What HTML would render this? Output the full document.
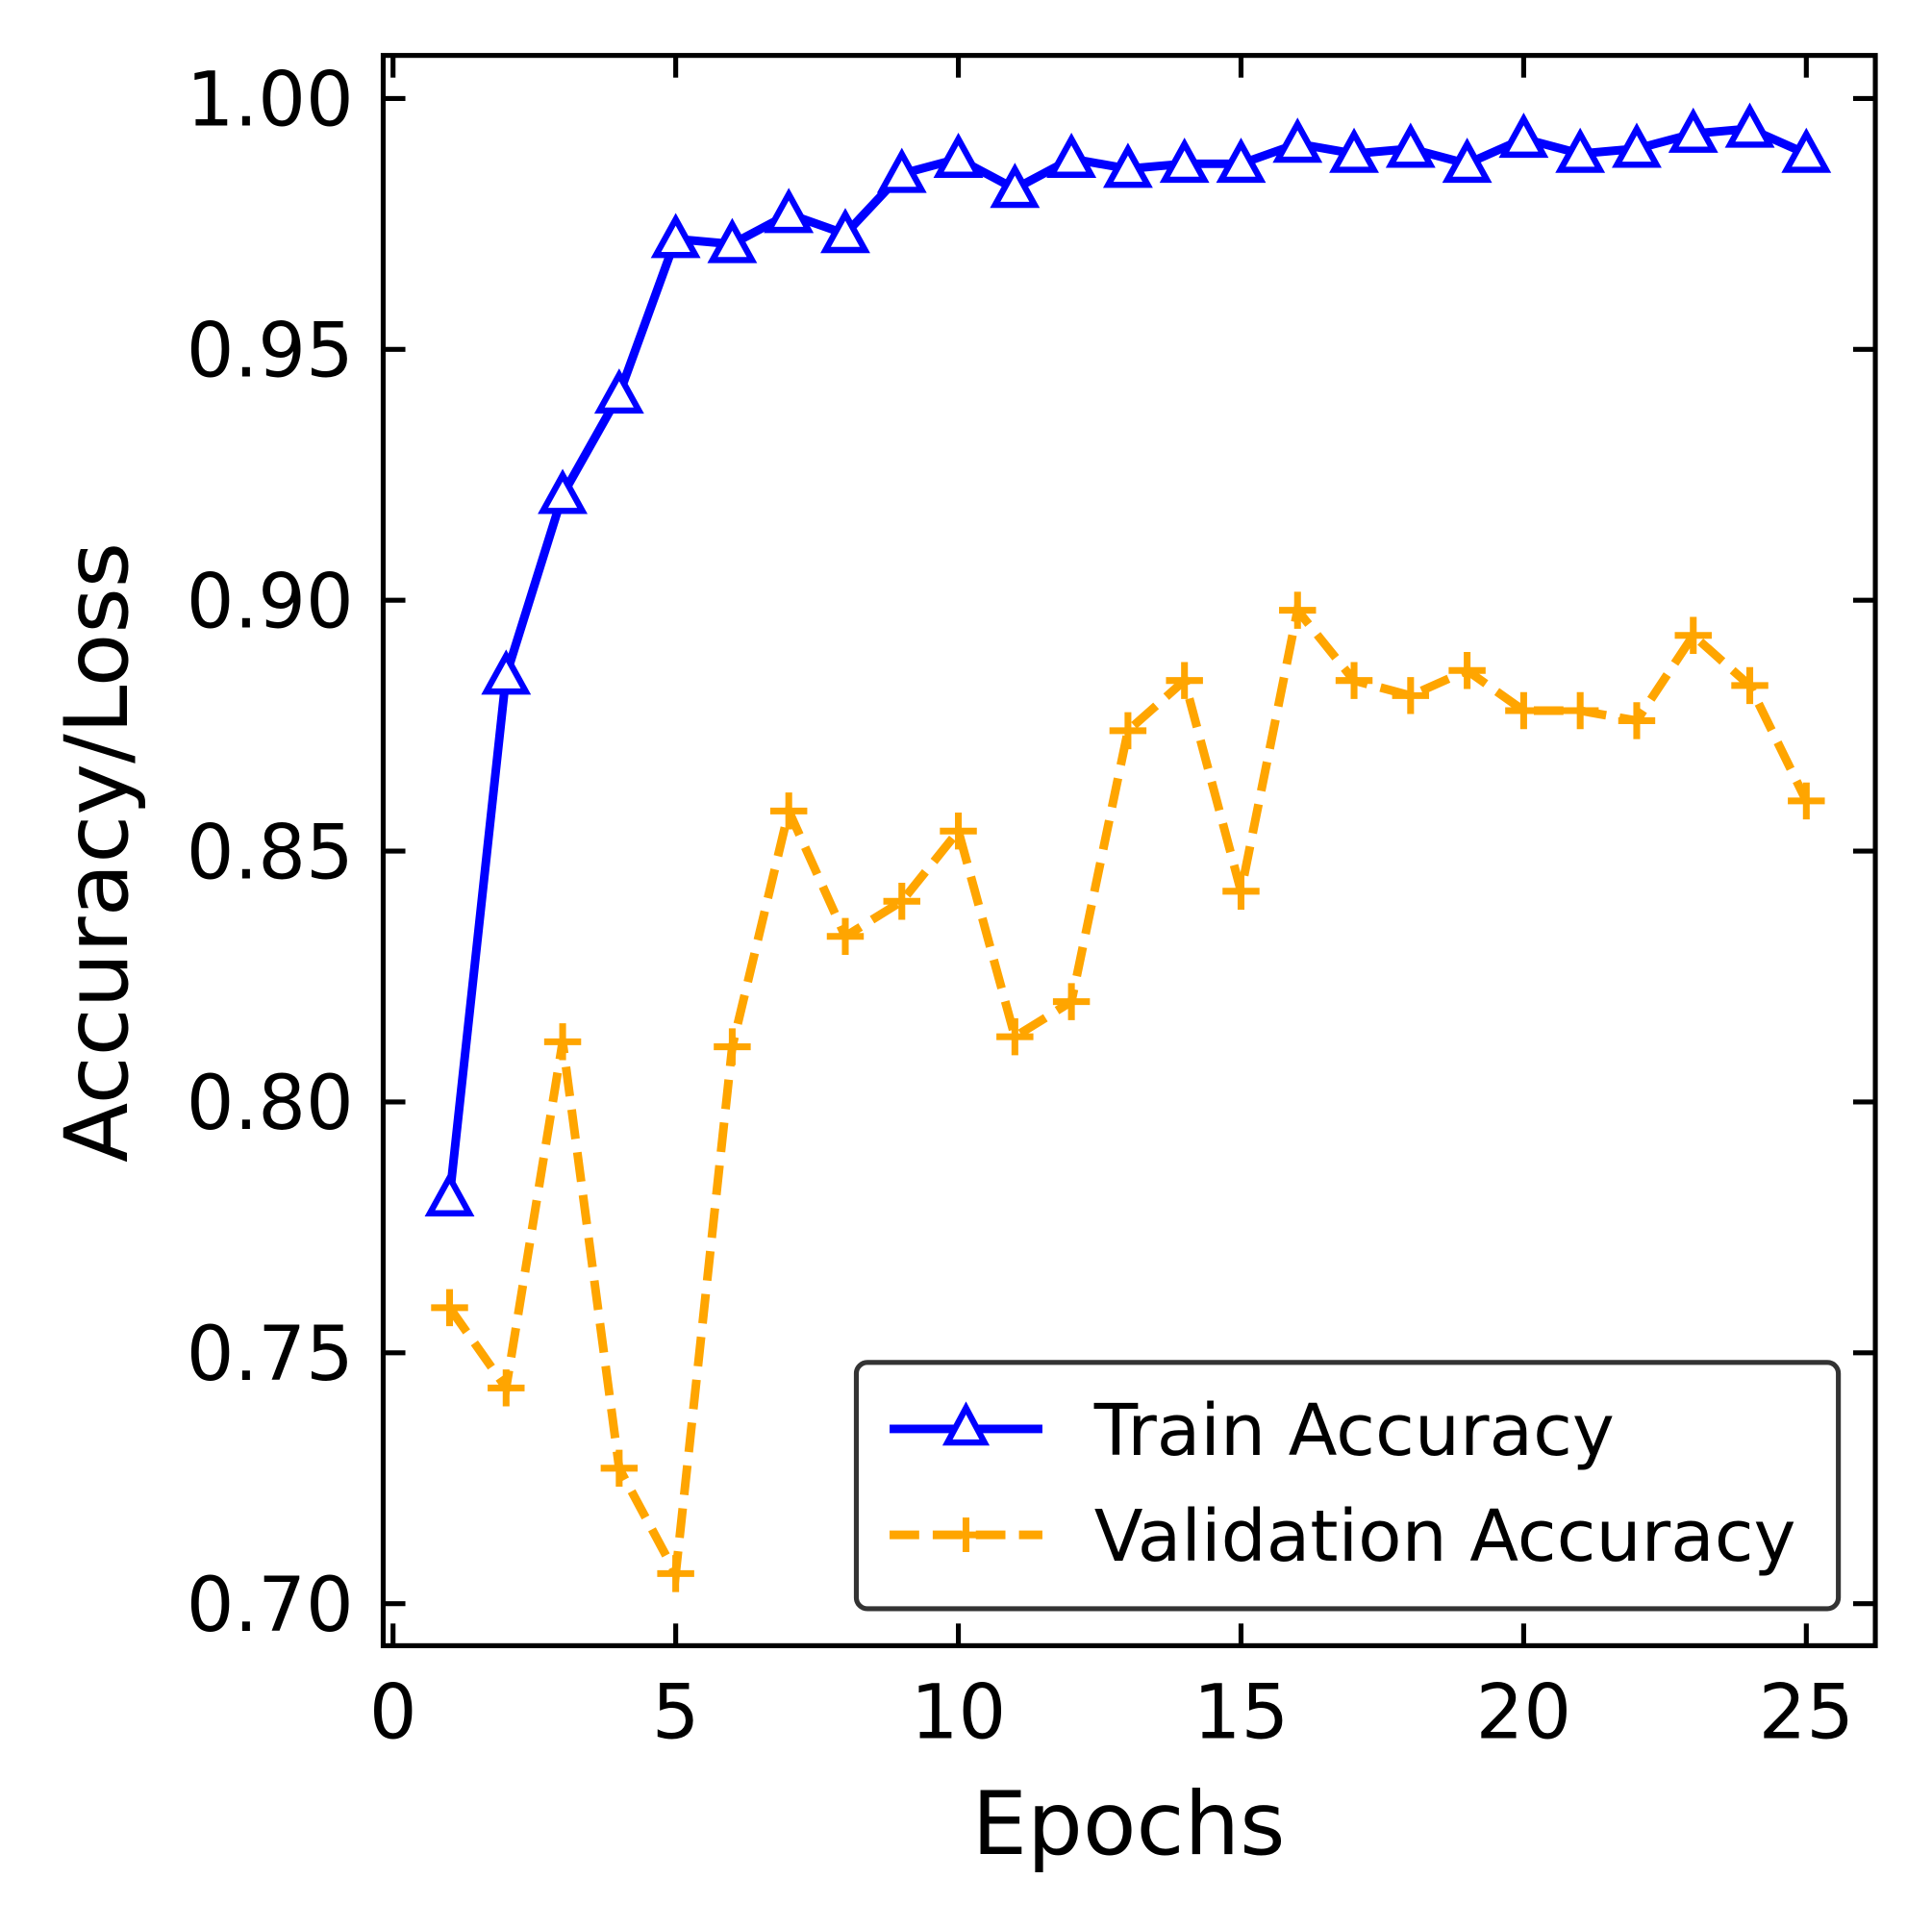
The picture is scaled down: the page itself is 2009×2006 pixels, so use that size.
<!DOCTYPE html>
<html><head><meta charset="utf-8"><style>html,body{margin:0;padding:0;background:#fff}svg{display:block}text{font-family:"DejaVu Sans","Liberation Sans",sans-serif}</style></head>
<body>
<svg id="chart" width="2009" height="2006" viewBox="0 0 1568 1566" preserveAspectRatio="none" xmlns="http://www.w3.org/2000/svg">
<rect width="1568" height="1566" fill="#fff"/>
<g id="marks"></g>
<rect x="311" y="45" width="1211" height="1291" fill="none" stroke="#000" stroke-width="4"/>
<g id="axes"></g>
<text x="916" y="1505" font-size="71" text-anchor="middle">Epochs</text>
<text transform="translate(103,692) rotate(-90)" font-size="71" text-anchor="middle">Accuracy/Loss</text>
<g>
<rect x="695" y="1106" width="797" height="200" rx="9" fill="#fff" stroke="#333" stroke-width="4"/>
<g>
<line x1="722" y1="1160" x2="846" y2="1160" stroke="#0000ff" stroke-width="7"/>
<path d="M784,1143 L799,1171 L769,1171 Z" fill="#fff" stroke="#0000ff" stroke-width="5"/>
<text x="888" y="1181" font-size="58">Train Accuracy</text></g>
<g>
<line x1="722" y1="1246" x2="846" y2="1246" stroke="#ffa500" stroke-width="7" stroke-dasharray="24,11"/>
<path d="M770,1246 H798 M784,1232 V1260" stroke="#ffa500" stroke-width="5.5"/>
<text x="888" y="1267" font-size="58">Validation Accuracy</text></g>
</g>
</svg>
<script>
const epochs=[1,2,3,4,5,6,7,8,9,10,11,12,13,14,15,16,17,18,19,20,21,22,23,24,25];
const trainAcc=[0.781,0.885,0.921,0.941,0.972,0.971,0.977,0.973,0.985,0.988,0.982,0.988,0.986,0.987,0.987,0.991,0.989,0.990,0.987,0.992,0.989,0.990,0.993,0.994,0.989];
const valAcc=[0.759,0.743,0.812,0.727,0.706,0.811,0.858,0.833,0.840,0.854,0.813,0.820,0.874,0.884,0.842,0.898,0.884,0.881,0.886,0.878,0.878,0.876,0.893,0.883,0.860];
const xTicks=[0,5,10,15,20,25];
const yTicks=[0.70,0.75,0.80,0.85,0.90,0.95,1.00];
const NS='http://www.w3.org/2000/svg';
const X=v=>319+v*45.88;
const Y=v=>80+(1.0-v)*4073;
function mk(tag,attrs,parent){const e=document.createElementNS(NS,tag);for(const k in attrs)e.setAttribute(k,attrs[k]);parent.appendChild(e);return e;}
const marks=document.getElementById('marks');
const axes=document.getElementById('axes');
let vl=mk('polyline',{points:epochs.map((e,i)=>X(e)+','+Y(valAcc[i])).join(' '),fill:'none',stroke:'#ffa500','stroke-width':7,'stroke-dasharray':'24,11'},marks);


epochs.forEach((e,i)=>{const x=X(e),y=Y(valAcc[i]);
const p=mk('path',{d:`M${x-15},${y} H${x+15} M${x},${y-15} V${y+15}`,stroke:'#ffa500','stroke-width':5.5},marks);

});
let tl=mk('polyline',{points:epochs.map((e,i)=>X(e)+','+Y(trainAcc[i])).join(' '),fill:'none',stroke:'#0000ff','stroke-width':7},marks);


epochs.forEach((e,i)=>{const x=X(e),y=Y(trainAcc[i]);
const p=mk('path',{d:`M${x},${y-16} L${x+16},${y+13} L${x-16},${y+13} Z`,fill:'#fff',stroke:'#0000ff','stroke-width':5},marks);

});
xTicks.forEach(t=>{const x=X(t);
mk('line',{x1:x,y1:1336,x2:x,y2:1318,stroke:'#000','stroke-width':4},axes);
mk('line',{x1:x,y1:45,x2:x,y2:63,stroke:'#000','stroke-width':4},axes);
const tx=mk('text',{x:x,y:1411,'font-size':61,'text-anchor':'middle'},axes);tx.textContent=t;

});
yTicks.forEach(t=>{const y=Y(t);
mk('line',{x1:311,y1:y,x2:329,y2:y,stroke:'#000','stroke-width':4},axes);
mk('line',{x1:1522,y1:y,x2:1504,y2:y,stroke:'#000','stroke-width':4},axes);
const tx=mk('text',{x:287,y:y+22,'font-size':61,'text-anchor':'end'},axes);tx.textContent=t.toFixed(2);

});
</script>
</body></html>
